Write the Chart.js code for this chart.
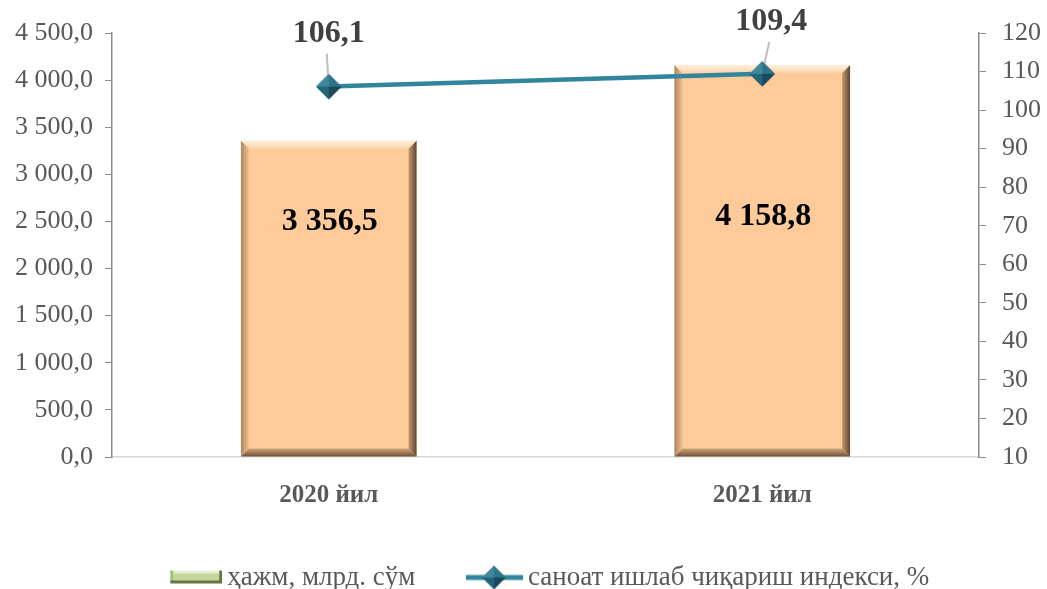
<!DOCTYPE html>
<html>
<head>
    <title>Ҳажм ва саноат ишлаб чиқариш индекси</title>
    <script src="https://cdn.jsdelivr.net/npm/chart.js"></script>
    <style>
        body { margin: 0; background: #fff; overflow: hidden; }
        .chart-box { width: 1047px; height: 601px; }
    </style>
</head>
<body>
<div class="chart-box"><canvas id="mainChart"></canvas></div>
<script>
// data
const years = ['2020 йил', '2021 йил'];
const volume = [3356.5, 4158.8];
const indexPct = [106.1, 109.4];
const volumeLabels = ['3 356,5', '4 158,8'];
const indexLabels = ['106,1', '109,4'];

const serif = "'Liberation Serif', 'Times New Roman', serif";
const grey = '#595959';
const iconBox = 96;

function fmt(v) {
    const parts = v.toFixed(1).split('.');
    return parts[0].replace(/\B(?=(\d{3})+(?!\d))/g, ' ') + ',' + parts[1];
}

// pyramid-like diamond, used for the line markers and the legend
function drawDiamond(g, cx, cy, h) {
    const facets = [
        ['#3f879b', [cx, cy - h], [cx - h, cy]],
        ['#2f7386', [cx, cy - h], [cx + h, cy]],
        ['#25657a', [cx - h, cy], [cx, cy + h]],
        ['#19495a', [cx + h, cy], [cx, cy + h]]
    ];
    facets.forEach(([col, a, b]) => {
        g.fillStyle = col;
        g.beginPath(); g.moveTo(cx, cy); g.lineTo(a[0], a[1]); g.lineTo(b[0], b[1]); g.closePath(); g.fill();
    });
}
function markerIcon() {
    const c = document.createElement('canvas');
    c.width = 26; c.height = 26;
    drawDiamond(c.getContext('2d'), 13, 13, 12.5);
    return c;
}

// small pictures for the legend, drawn at the right edge of a wider transparent canvas
function iconCanvas(w) {
    const c = document.createElement('canvas');
    c.width = iconBox + 17; c.height = 26;
    return [c, c.getContext('2d'), c.width - w];
}
function barIcon() {
    const [c, g, x] = iconCanvas(52);
    g.translate(x, 6);
    g.fillStyle = '#c3d69b'; g.fillRect(0, 0, 52, 13);
    g.fillStyle = '#e6eed2'; g.fillRect(0, 0, 52, 3);
    g.fillStyle = '#a9bf7c'; g.fillRect(0, 0, 3, 13);
    g.fillStyle = '#66763f'; g.fillRect(0, 10, 52, 3); g.fillRect(49, 0, 3, 13);
    return c;
}
function lineIcon() {
    const [c, g, x] = iconCanvas(57);
    g.translate(x, 0);
    g.strokeStyle = '#31859c'; g.lineWidth = 5;
    g.beginPath(); g.moveTo(0, 13); g.lineTo(57, 13); g.stroke();
    drawDiamond(g, 28, 13, 12);
    return c;
}

// bevelled bars, value labels and leader lines
const decorate = {
    id: 'decorate',
    afterDatasetDraw(chart, args) {
        const ctx = chart.ctx;
        if (args.index === 0) {
            const yScale = chart.scales.y;
            const labelAt = [2500, 2550];
            chart.getDatasetMeta(0).data.forEach((bar, i) => {
                const l = bar.x - bar.width / 2, r = bar.x + bar.width / 2;
                const t = bar.y, b = bar.base, e = 8;
                ctx.save();
                let gr = ctx.createLinearGradient(0, t, 0, t + e);
                gr.addColorStop(0, '#fff1e0'); gr.addColorStop(1, '#fbd3a8');
                ctx.fillStyle = gr;
                ctx.beginPath(); ctx.moveTo(l, t); ctx.lineTo(r, t); ctx.lineTo(r - e, t + e); ctx.lineTo(l + e, t + e); ctx.fill();
                gr = ctx.createLinearGradient(r - e, 0, r, 0);
                gr.addColorStop(0, '#c79c70'); gr.addColorStop(1, '#5e4430');
                ctx.fillStyle = gr;
                ctx.beginPath(); ctx.moveTo(r, t); ctx.lineTo(r, b); ctx.lineTo(r - e, b - e); ctx.lineTo(r - e, t + e); ctx.fill();
                gr = ctx.createLinearGradient(0, b - e, 0, b);
                gr.addColorStop(0, '#d0a57a'); gr.addColorStop(1, '#6e5038');
                ctx.fillStyle = gr;
                ctx.beginPath(); ctx.moveTo(l, b); ctx.lineTo(r, b); ctx.lineTo(r - e, b - e); ctx.lineTo(l + e, b - e); ctx.fill();
                gr = ctx.createLinearGradient(l, 0, l + e, 0);
                gr.addColorStop(0, '#b08660'); gr.addColorStop(1, '#f2c08e');
                ctx.fillStyle = gr;
                ctx.beginPath(); ctx.moveTo(l, t); ctx.lineTo(l + e, t + e); ctx.lineTo(l + e, b - e); ctx.lineTo(l, b); ctx.fill();
                ctx.fillStyle = '#000';
                ctx.font = 'bold 32px ' + serif;
                ctx.textAlign = 'center'; ctx.textBaseline = 'middle';
                ctx.fillText(volumeLabels[i], bar.x + 1, yScale.getPixelForValue(labelAt[i]));
                ctx.restore();
            });
        }
        if (args.index === 1) {
            const pts = chart.getDatasetMeta(1).data;
            const offs = [[0, -53], [9, -52]];
            pts.forEach((p, i) => {
                const lx = p.x + offs[i][0], ly = p.y + offs[i][1];
                ctx.save();
                ctx.strokeStyle = '#bfbfbf'; ctx.lineWidth = 2;
                ctx.beginPath(); ctx.moveTo(lx - 2, ly + 20); ctx.lineTo(p.x, p.y); ctx.stroke();
                ctx.fillStyle = '#404040';
                ctx.font = 'bold 32px ' + serif;
                ctx.textAlign = 'center'; ctx.textBaseline = 'middle';
                ctx.fillText(indexLabels[i], lx, ly);
                ctx.restore();
            });
            // redraw the points over the leader lines
            pts.forEach(p => p.draw(ctx));
        }
    }
};

new Chart(document.getElementById('mainChart'), {
    type: 'bar',
    data: {
        labels: years,
        datasets: [{
            type: 'bar',
            label: 'ҳажм, млрд. сўм',
            data: volume,
            yAxisID: 'y',
            backgroundColor: '#fccb99',
            categoryPercentage: 0.81,
            barPercentage: 0.5,
            order: 2
        }, {
            type: 'line',
            label: 'саноат ишлаб чиқариш индекси, %',
            data: indexPct,
            yAxisID: 'y1',
            borderColor: '#31859c',
            borderWidth: 4.5,
            pointStyle: markerIcon(),
            pointRadius: 12,
            order: 1
        }]
    },
    options: {
        responsive: true,
        maintainAspectRatio: false,
        animation: false,
        layout: { padding: { top: 33, left: 0, right: 0, bottom: 0 } },
        scales: {
            x: {
                grid: { display: false },
                border: { display: true, color: '#d9d9d9', width: 1.5 },
                ticks: { color: grey, font: { family: serif, size: 25, weight: 'bold' }, padding: 16 },
                afterFit(s) { s.height = 104; }
            },
            y: {
                position: 'left',
                min: 0, max: 4500,
                ticks: { stepSize: 500, color: grey, font: { family: serif, size: 26 }, padding: 12, callback: v => fmt(v) },
                grid: { drawOnChartArea: false, drawTicks: true, tickLength: 7, color: '#8c8c8c' },
                border: { display: true, color: '#8c8c8c', width: 1.5 },
                afterFit(s) { s.width = 112; }
            },
            y1: {
                position: 'right',
                min: 10, max: 120,
                ticks: { stepSize: 10, color: grey, font: { family: serif, size: 26 }, padding: 16 },
                grid: { drawOnChartArea: false, drawTicks: true, tickLength: 7, color: '#8c8c8c' },
                border: { display: true, color: '#8c8c8c', width: 1.5 },
                afterFit(s) { s.width = 68; }
            }
        },
        plugins: {
            tooltip: { enabled: false },
            legend: {
                position: 'bottom',
                labels: {
                    color: grey,
                    font: { family: serif, size: 27 },
                    usePointStyle: true,
                    pointStyleWidth: iconBox,
                    padding: 3,
                    generateLabels(chart) {
                        const icons = [barIcon(), lineIcon()];
                        return chart.data.datasets.map((d, i) => ({
                            text: d.label,
                            datasetIndex: i,
                            pointStyle: icons[i],
                            fontColor: grey,
                            hidden: false
                        }));
                    }
                }
            }
        }
    },
    plugins: [decorate]
});
</script>
</body>
</html>
